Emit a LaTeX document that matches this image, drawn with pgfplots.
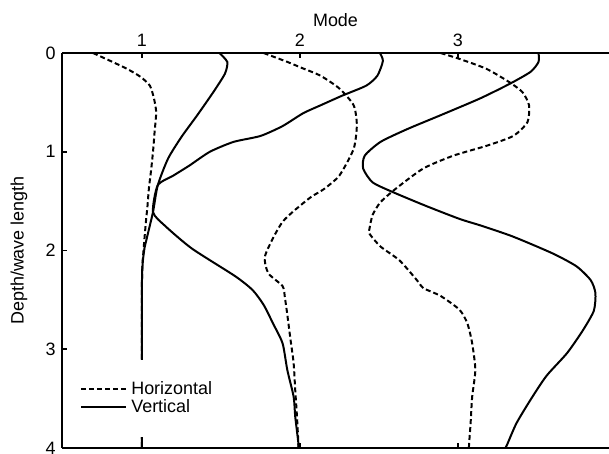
\documentclass[border=0pt]{standalone}
\usepackage{pgfplots}
\pgfplotsset{compat=1.18}
\usepackage{fontspec}
\setmainfont{Liberation Sans}
\usetikzlibrary{calc}
\begin{document}
\fontsize{9}{11}\selectfont
\begin{tikzpicture}
\begin{axis}[
  scale only axis, width=273.5bp, height=197.5bp,
  xmin=0.494, xmax=3.956, ymin=0, ymax=4, y dir=reverse,
  axis x line*=box, axis y line*=left,
  xtick={1,2,3}, ytick={0,1,2,3,4},
  xticklabel pos=right,
  tick align=inside, major tick length=2.5bp,
  xlabel={Mode}, ylabel={Depth/wave length},
  xlabel style={at={(axis description cs:0.5,1.0835)}, anchor=center},
  ylabel style={at={(axis description cs:-0.0786,0.5)}, anchor=center},
  every axis plot/.append style={line width=1pt, black, smooth, tension=0.4},
  axis line style={line width=0.9pt},
  tick style={line width=0.8pt, black},
  /pgf/number format/assume math mode=true,
  tick label style={font=\fontsize{9}{11}\selectfont},
  label style={font=\fontsize{9}{11}\selectfont},
  legend style={at={(axis cs:0.557,3.1)}, anchor=north west, draw=none, fill=white,
    inner xsep=4bp, inner ysep=9bp, row sep=-3pt, font=\fontsize{9}{11}\selectfont,
    cells={anchor=west}, /tikz/every even column/.append style={column sep=2.5bp}},
  legend image code/.code={\draw[#1] (0bp,0bp) -- (22.5bp,0bp);},
  hdash/.style={dash pattern=on 2.5bp off 1.5bp},
]
% Mode 1 horizontal
\addplot[black, hdash] coordinates {(0.69,0) (0.80,0.08) (0.905,0.16) (0.99,0.24) (1.05,0.33) (1.076,0.46) (1.09,0.60) (1.08,0.80) (1.07,1.0) (1.057,1.2) (1.044,1.37) (1.035,1.55) (1.025,1.71) (1.01,2.0) (1.0,2.33) (1.0,4.0)};
\addlegendentry{Horizontal}
% Mode 1 vertical
\addplot[black, solid] coordinates {(1.49,0) (1.54,0.09) (1.525,0.21) (1.45,0.4) (1.35,0.63) (1.25,0.85) (1.165,1.07) (1.10,1.34) (1.07,1.61) (1.03,1.88) (1.013,2.01) (1.0,2.33) (1.0,4.0)};
\addlegendentry{Vertical}
% Mode 2 horizontal
\addplot[black, hdash, forget plot] coordinates {(1.77,0) (1.92,0.09) (2.01,0.15) (2.13,0.23) (2.25,0.36) (2.34,0.53) (2.36,0.73) (2.34,0.97) (2.25,1.24) (2.15,1.38) (2.06,1.47) (1.89,1.71) (1.78,2.05) (1.80,2.23) (1.89,2.36) (1.905,2.48) (1.92,2.65) (1.94,2.9) (1.96,3.14) (1.97,3.41) (1.98,3.65) (1.99,3.95) (1.99,4.0)};
% Mode 2 vertical
\addplot[black, solid, forget plot] coordinates {(2.506,0) (2.525,0.08) (2.49,0.23) (2.42,0.33) (2.27,0.43) (2.13,0.53) (2.02,0.61) (1.89,0.74) (1.75,0.84) (1.58,0.9) (1.43,1.0) (1.30,1.14) (1.20,1.24) (1.10,1.34) (1.07,1.61) (1.146,1.75) (1.316,1.98) (1.59,2.26) (1.70,2.40) (1.77,2.55) (1.83,2.74) (1.89,2.94) (1.92,3.21) (1.96,3.48) (1.97,3.68) (1.99,3.95) (1.99,4.0)};
% Mode 3 horizontal
\addplot[black, hdash, forget plot] coordinates {(2.89,0) (3.01,0.06) (3.18,0.16) (3.33,0.3) (3.41,0.4) (3.45,0.53) (3.44,0.70) (3.35,0.84) (3.18,0.94) (2.97,1.04) (2.78,1.17) (2.61,1.37) (2.51,1.51) (2.46,1.64) (2.44,1.78) (2.44,1.83) (2.51,1.96) (2.63,2.10) (2.74,2.30) (2.78,2.38) (2.89,2.46) (3.01,2.60) (3.06,2.74) (3.09,2.94) (3.11,3.21) (3.09,3.48) (3.08,3.75) (3.07,3.97) (3.07,4.0)};
% Mode 3 vertical
\addplot[black, solid, forget plot] coordinates {(3.51,0) (3.51,0.09) (3.46,0.19) (3.33,0.31) (3.14,0.46) (2.89,0.63) (2.68,0.77) (2.51,0.9) (2.41,1.04) (2.40,1.17) (2.46,1.31) (2.59,1.41) (2.80,1.55) (3.01,1.68) (3.15,1.75) (3.35,1.86) (3.60,2.03) (3.75,2.16) (3.84,2.3) (3.87,2.43) (3.86,2.61) (3.79,2.81) (3.69,3.04) (3.56,3.27) (3.46,3.51) (3.37,3.75) (3.31,3.97) (3.30,4.0)};
\end{axis}
\pgfresetboundingbox
\path[use as bounding box] ($(current axis.south west)+(-31bp,-3bp)$) rectangle ($(current axis.north east)+(0bp,26.5bp)$);
\end{tikzpicture}
\end{document}
